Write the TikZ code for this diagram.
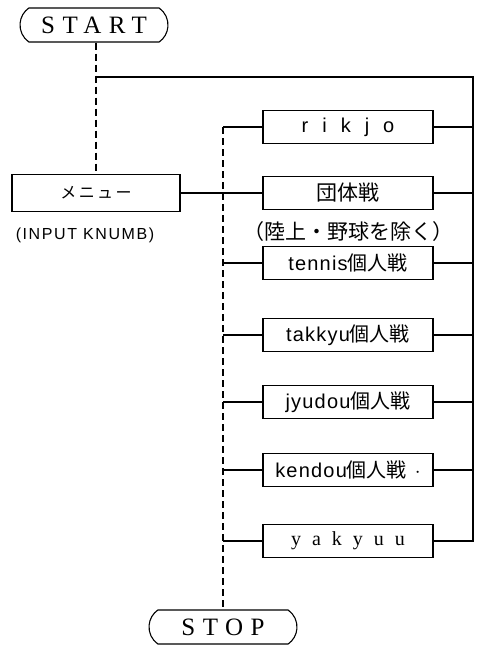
\documentclass[tikz,border=0pt]{standalone}
\usepackage{fontspec}
\setmainfont{Liberation Sans}
\newfontfamily\jp{Noto Sans CJK JP}
\newfontfamily\serifs{Liberation Serif}
\usetikzlibrary{shapes.misc}
\begin{document}
\begin{tikzpicture}[x=1pt,y=-1pt,
  ln/.style={line width=1.1pt},
  dsh/.style={line width=1.1pt,dash pattern=on 7pt off 4pt},
  term/.style={draw,ln,rounded rectangle,rounded rectangle arc length=110,minimum width=148pt,minimum height=34pt,inner sep=0pt,font=\serifs\fontsize{25}{25}\selectfont\addfontfeatures{LetterSpace=30}},
  proc/.style={draw,ln,rectangle,minimum width=170pt,minimum height=33pt,inner sep=0pt,font=\fontsize{20}{20}\selectfont\addfontfeatures{LetterSpace=6}},
  jpt/.style={font=\jp\fontsize{21}{21}\selectfont}]
\useasboundingbox (0,0) rectangle (477,648);
\node[term] (start) at (94,25) {START};
\node[term] (stop) at (223,627) {STOP};
\node[proc,minimum width=168pt,minimum height=37pt] (menu) at (96,193) {\jp\fontsize{16}{16}\selectfont\addfontfeatures{LetterSpace=15}メニュー};
\node[font=\fontsize{16}{16}\selectfont\addfontfeatures{LetterSpace=10}] (inp) at (85,235) {(INPUT KNUMB)};
\node[proc,font=\fontsize{20}{20}\selectfont\addfontfeatures{LetterSpace=70}] (rik) at (348,127) {rikjo};
\node[proc,jpt] (dan) at (348,193) {団体戦};
\node[jpt] (note) at (348,232) {（陸上・野球を除く）};
\node[proc] (ten) at (348,263) {tennis{\jp 個人戦}};
\node[proc] (tak) at (348,335) {takkyu{\jp 個人戦}};
\node[proc] (jyu) at (348,402) {jyudou{\jp 個人戦}};
\node[proc] (ken) at (348,470) {kendou{\jp 個人戦}\hspace{8pt}$\cdot$};
\node[proc,font=\serifs\fontsize{20}{20}\selectfont\addfontfeatures{LetterSpace=55}] (yak) at (348,541) {yakyuu};
\coordinate (j) at (96,77);
\coordinate (rtop) at (473,77);
\coordinate (ltop) at (223,127);
% main vertical
\draw[dsh] (start.south -| j) -- (menu.north -| j);
% loop back
\draw[ln] (yak.east) -| (rtop) -- (j);
% left bus
\draw[ln] (rik.west) -- (ltop);
\draw[dsh] (ltop) -- (stop.north);
\draw[ln] (menu.east) -- (dan.west);
\foreach \b in {ten,tak,jyu,ken,yak}{\draw[ln] (\b.west) -- (\b.west -| ltop);}
\foreach \b in {rik,dan,ten,tak,jyu,ken}{\draw[ln] (\b.east) -- (\b.east -| rtop);}
\end{tikzpicture}
\end{document}
